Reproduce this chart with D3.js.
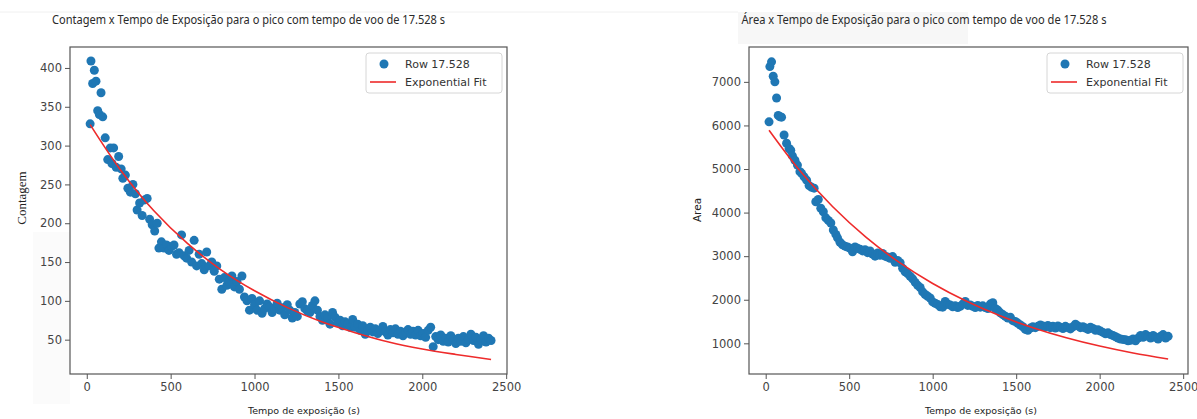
<!DOCTYPE html>
<html>
<head>
<meta charset="utf-8">
<script src="https://cdn.jsdelivr.net/npm/d3@7"></script>
<style>
  body { margin: 0; background: #fff; }
</style>
</head>
<body>
<div id="graph"></div>
<script>
// exposure time (s) of each measurement
var tempo = [
  20, 25, 35, 45, 55, 65, 75, 85, 95, 110,
  125, 140, 150, 160, 175, 190, 205, 215, 230, 245,
  260, 275, 290, 300, 315, 330, 345, 360, 375, 390,
  405, 420, 430, 445, 460, 475, 490, 505, 520, 535,
  550, 565, 580, 595, 610, 625, 640, 655, 670, 685,
  700, 715, 730, 745, 760, 775, 790, 805, 820, 835,
  850, 865, 880, 895, 910, 925, 940, 955, 970, 985,
  1000, 1015, 1030, 1045, 1060, 1075, 1090, 1105, 1120, 1135,
  1150, 1165, 1180, 1195, 1210, 1225, 1240, 1255, 1270, 1285,
  1300, 1315, 1330, 1345, 1360, 1375, 1390, 1405, 1420, 1435,
  1450, 1465, 1480, 1495, 1510, 1525, 1540, 1555, 1570, 1585,
  1600, 1615, 1630, 1645, 1660, 1675, 1690, 1705, 1720, 1735,
  1750, 1765, 1780, 1795, 1810, 1825, 1840, 1855, 1870, 1885,
  1900, 1915, 1930, 1945, 1960, 1975, 1990, 2005, 2020, 2035,
  2050, 2065, 2080, 2095, 2110, 2125, 2140, 2155, 2170, 2185,
  2200, 2215, 2230, 2245, 2260, 2275, 2290, 2305, 2320, 2335,
  2350, 2365, 2380, 2395, 2410
];

var contagem = [
  328, 409, 380, 397, 383, 345, 340, 368, 337, 310,
  282, 297, 277, 297, 272, 286, 270, 258, 262, 245,
  240, 250, 238, 217, 226, 210, 230, 232, 205, 198,
  190, 200, 168, 176, 168, 172, 165, 170, 172, 160,
  162, 185, 158, 155, 165, 150, 178, 145, 160, 148,
  140, 163, 145, 150, 138, 145, 128, 115, 130, 120,
  125, 132, 118, 125, 115, 132, 105, 100, 88, 103,
  95, 88, 100, 84, 90, 96, 92, 85, 90, 97,
  88, 91, 82, 95, 88, 78, 85, 80, 96, 99,
  90, 87, 85, 94, 100, 88, 80, 75, 82, 78,
  70, 85, 79, 72, 75, 68, 73, 70, 66, 76,
  66, 70, 62, 68, 57, 62, 66, 60, 64, 58,
  62, 67, 60, 56, 63, 59, 64, 57, 61, 55,
  60, 63, 57, 61, 56, 62, 55, 58, 53, 62,
  66, 41, 54, 50, 56, 48, 52, 47, 55, 50,
  45, 52, 48, 54, 46, 50, 57, 49, 53, 44,
  50, 55, 47, 52, 49
];

var area = [
  6083, 7350, 7460, 7130, 7000, 6630, 6230, 6200, 6190, 5780,
  5590, 5470, 5430, 5300, 5200, 5090, 4940, 4900, 4820, 4745,
  4620, 4580, 4560, 4250, 4300, 4100, 4020, 3880, 3820, 3760,
  3600, 3500, 3420, 3320, 3260, 3230, 3210, 3180, 3100, 3210,
  3180, 3160, 3120, 3150, 3080, 3120, 3050, 3000, 3070, 3020,
  3060, 3000, 2980, 2950, 2990, 2860, 2900, 2850, 2720, 2640,
  2600, 2540, 2480, 2400, 2330, 2280, 2180, 2120, 2080, 2040,
  1950, 1920, 1890, 1840, 1830, 1960, 1900, 1880, 1840, 1860,
  1820, 1850, 1900, 1960, 1870, 1880, 1850, 1820, 1870, 1830,
  1860, 1820, 1800, 1900, 1930, 1800, 1760, 1700, 1660, 1620,
  1580, 1600, 1520, 1500, 1460, 1420, 1380, 1320, 1300, 1350,
  1380, 1360, 1390, 1420, 1400, 1380, 1410, 1360, 1390, 1350,
  1400, 1370, 1340, 1390, 1360, 1330, 1380, 1440, 1400, 1360,
  1380, 1350, 1320, 1370, 1340, 1300, 1310, 1280, 1250, 1220,
  1240, 1200, 1180, 1150, 1120, 1100, 1090, 1080, 1060, 1070,
  1100, 1060, 1120, 1180, 1140, 1200, 1160, 1120, 1180, 1140,
  1100, 1160, 1200, 1120, 1160
];

// exponential fit curves
var fitTempo    = [20, 200, 400, 600, 800, 1000, 1200, 1400, 1600, 1800, 2000, 2200, 2410];
var fitContagem = [327, 269, 216, 174, 140, 113, 91, 73, 59, 47, 38, 31, 24.5];
var fitArea     = [5890, 4984, 4140, 3439, 2856, 2372, 1970, 1637, 1359, 1129, 938, 779, 641];

var xTicks = [0, 500, 1000, 1500, 2000, 2500];
var contagemTicks = [50, 100, 150, 200, 250, 300, 350, 400];
var areaTicks = [1000, 2000, 3000, 4000, 5000, 6000, 7000];

var seriesName = "Row 17.528";
var fitName = "Exponential Fit";
var xLabel = "Tempo de exposição (s)";

var width = 1197;
var height = 419;

var svg = d3.select('#graph')
  .append('svg')
  .attr('width', width)
  .attr('height', height)
  .attr('style', 'display: block;');

svg.append('rect').attr('width', width).attr('height', height).attr('fill', '#fff');

/* faint traces of the original screenshot */
svg.append('line')
  .attr('x1', 0).attr('x2', 738).attr('y1', 12).attr('y2', 12)
  .attr('stroke', '#f0f0f0');
svg.append('rect')
  .attr('x', 738).attr('y', 12).attr('width', 230).attr('height', 32)
  .attr('fill', '#f7f7f7');
svg.append('rect')
  .attr('x', 33).attr('y', 232).attr('width', 37).attr('height', 172)
  .attr('fill', '#fbfbfb');

function drawPanel(p) {
  var g = svg.append('g');

  var x = d3.scaleLinear().domain(p.xDomain).range([p.left, p.right]);
  var y = d3.scaleLinear().domain(p.yDomain).range([p.bottom, p.top]);

  var xAxis = g.append('g')
    .attr('transform', 'translate(0,' + p.bottom + ')')
    .call(d3.axisBottom(x).tickValues(xTicks).tickFormat(d3.format('d'))
      .tickSize(5).tickPadding(4).tickSizeOuter(0));
  var yAxis = g.append('g')
    .attr('transform', 'translate(' + p.left + ',0)')
    .call(d3.axisLeft(y).tickValues(p.yTicks).tickFormat(d3.format('d'))
      .tickSize(5).tickPadding(3).tickSizeOuter(0));

  [xAxis, yAxis].forEach(function (a) {
    a.select('.domain').remove();
    a.attr('font-family', '"DejaVu Sans", sans-serif').attr('font-size', 11.5);
    a.selectAll('line').attr('stroke', '#555');
    a.selectAll('text').attr('fill', '#444');
  });

  /* scatter */
  g.append('g')
    .selectAll('circle')
    .data(tempo)
    .enter()
    .append('circle')
    .attr('cx', function (d) { return x(d); })
    .attr('cy', function (d, i) { return y(p.values[i]); })
    .attr('r', 4.5)
    .attr('fill', '#1f77b4');

  /* fit */
  var lineFunc = d3.line()
    .x(function (d) { return x(d); })
    .y(function (d, i) { return y(p.fit[i]); })
    .curve(d3.curveCatmullRom);
  g.append('path')
    .attr('d', lineFunc(fitTempo))
    .attr('fill', 'none')
    .attr('stroke', '#ee2b2b')
    .attr('stroke-width', 1.6);

  /* frame */
  g.append('rect')
    .attr('x', p.left).attr('y', p.top)
    .attr('width', p.right - p.left).attr('height', p.bottom - p.top)
    .attr('fill', 'none')
    .attr('stroke', '#555')
    .attr('stroke-width', 1.2);

  /* legend */
  var lw = 136, lx = p.right - 5 - lw, ly = p.top + 6;
  var legend = g.append('g').attr('font-family', '"DejaVu Sans", sans-serif').attr('font-size', 11);
  legend.append('rect')
    .attr('x', lx).attr('y', ly).attr('width', lw).attr('height', 40).attr('rx', 3)
    .attr('fill', '#fff').attr('fill-opacity', 0.85)
    .attr('stroke', '#d6d6d6');
  legend.append('circle')
    .attr('cx', lx + 18).attr('cy', ly + 11).attr('r', 4.5).attr('fill', '#1f77b4');
  legend.append('line')
    .attr('x1', lx + 4).attr('x2', lx + 30).attr('y1', ly + 29).attr('y2', ly + 29)
    .attr('stroke', '#ee2b2b').attr('stroke-width', 1.6);
  legend.append('text')
    .attr('x', lx + 39).attr('y', ly + 15).attr('fill', '#333').text(seriesName);
  legend.append('text')
    .attr('x', lx + 39).attr('y', ly + 33).attr('fill', '#333').text(fitName);

  /* title and labels */
  g.append('text')
    .attr('x', p.titleX).attr('y', 24)
    .attr('text-anchor', 'middle')
    .attr('font-family', '"Noto Sans", sans-serif')
    .attr('font-size', 12.5)
    .attr('fill', '#2a2a2a')
    .attr('textLength', p.titleWidth)
    .attr('lengthAdjust', 'spacingAndGlyphs')
    .text(p.title);

  g.append('text')
    .attr('x', p.xLabelX).attr('y', 414)
    .attr('text-anchor', 'middle')
    .attr('font-family', '"DejaVu Sans", sans-serif')
    .attr('font-size', 9)
    .attr('fill', '#222')
    .attr('textLength', 112)
    .attr('lengthAdjust', 'spacingAndGlyphs')
    .text(xLabel);

  g.append('text')
    .attr('transform', 'translate(' + p.yLabelX + ',' + p.yLabelY + ') rotate(-90)')
    .attr('text-anchor', 'middle')
    .attr('font-family', p.yLabelFont)
    .attr('font-size', p.yLabelSize)
    .attr('fill', '#222')
    .text(p.yLabel);
}

drawPanel({
  left: 70, right: 507, top: 47, bottom: 374,
  xDomain: [-100, 2505], yDomain: [5.8, 427],
  values: contagem, fit: fitContagem, yTicks: contagemTicks,
  title: "Contagem x Tempo de Exposição para o pico com tempo de voo de 17.528 s",
  titleX: 248.5, titleWidth: 393,
  xLabelX: 304,
  yLabel: "Contagem", yLabelX: 26, yLabelY: 198,
  yLabelFont: '"Liberation Serif", serif', yLabelSize: 13
});

drawPanel({
  left: 749, right: 1188, top: 47, bottom: 374,
  xDomain: [-100, 2529], yDomain: [296, 7800],
  values: area, fit: fitArea, yTicks: areaTicks,
  title: "Área x Tempo de Exposição para o pico com tempo de voo de 17.528 s",
  titleX: 924, titleWidth: 365,
  xLabelX: 981,
  yLabel: "Area", yLabelX: 701, yLabelY: 210,
  yLabelFont: '"DejaVu Sans", sans-serif', yLabelSize: 10.5
});
</script>
</body>
</html>
